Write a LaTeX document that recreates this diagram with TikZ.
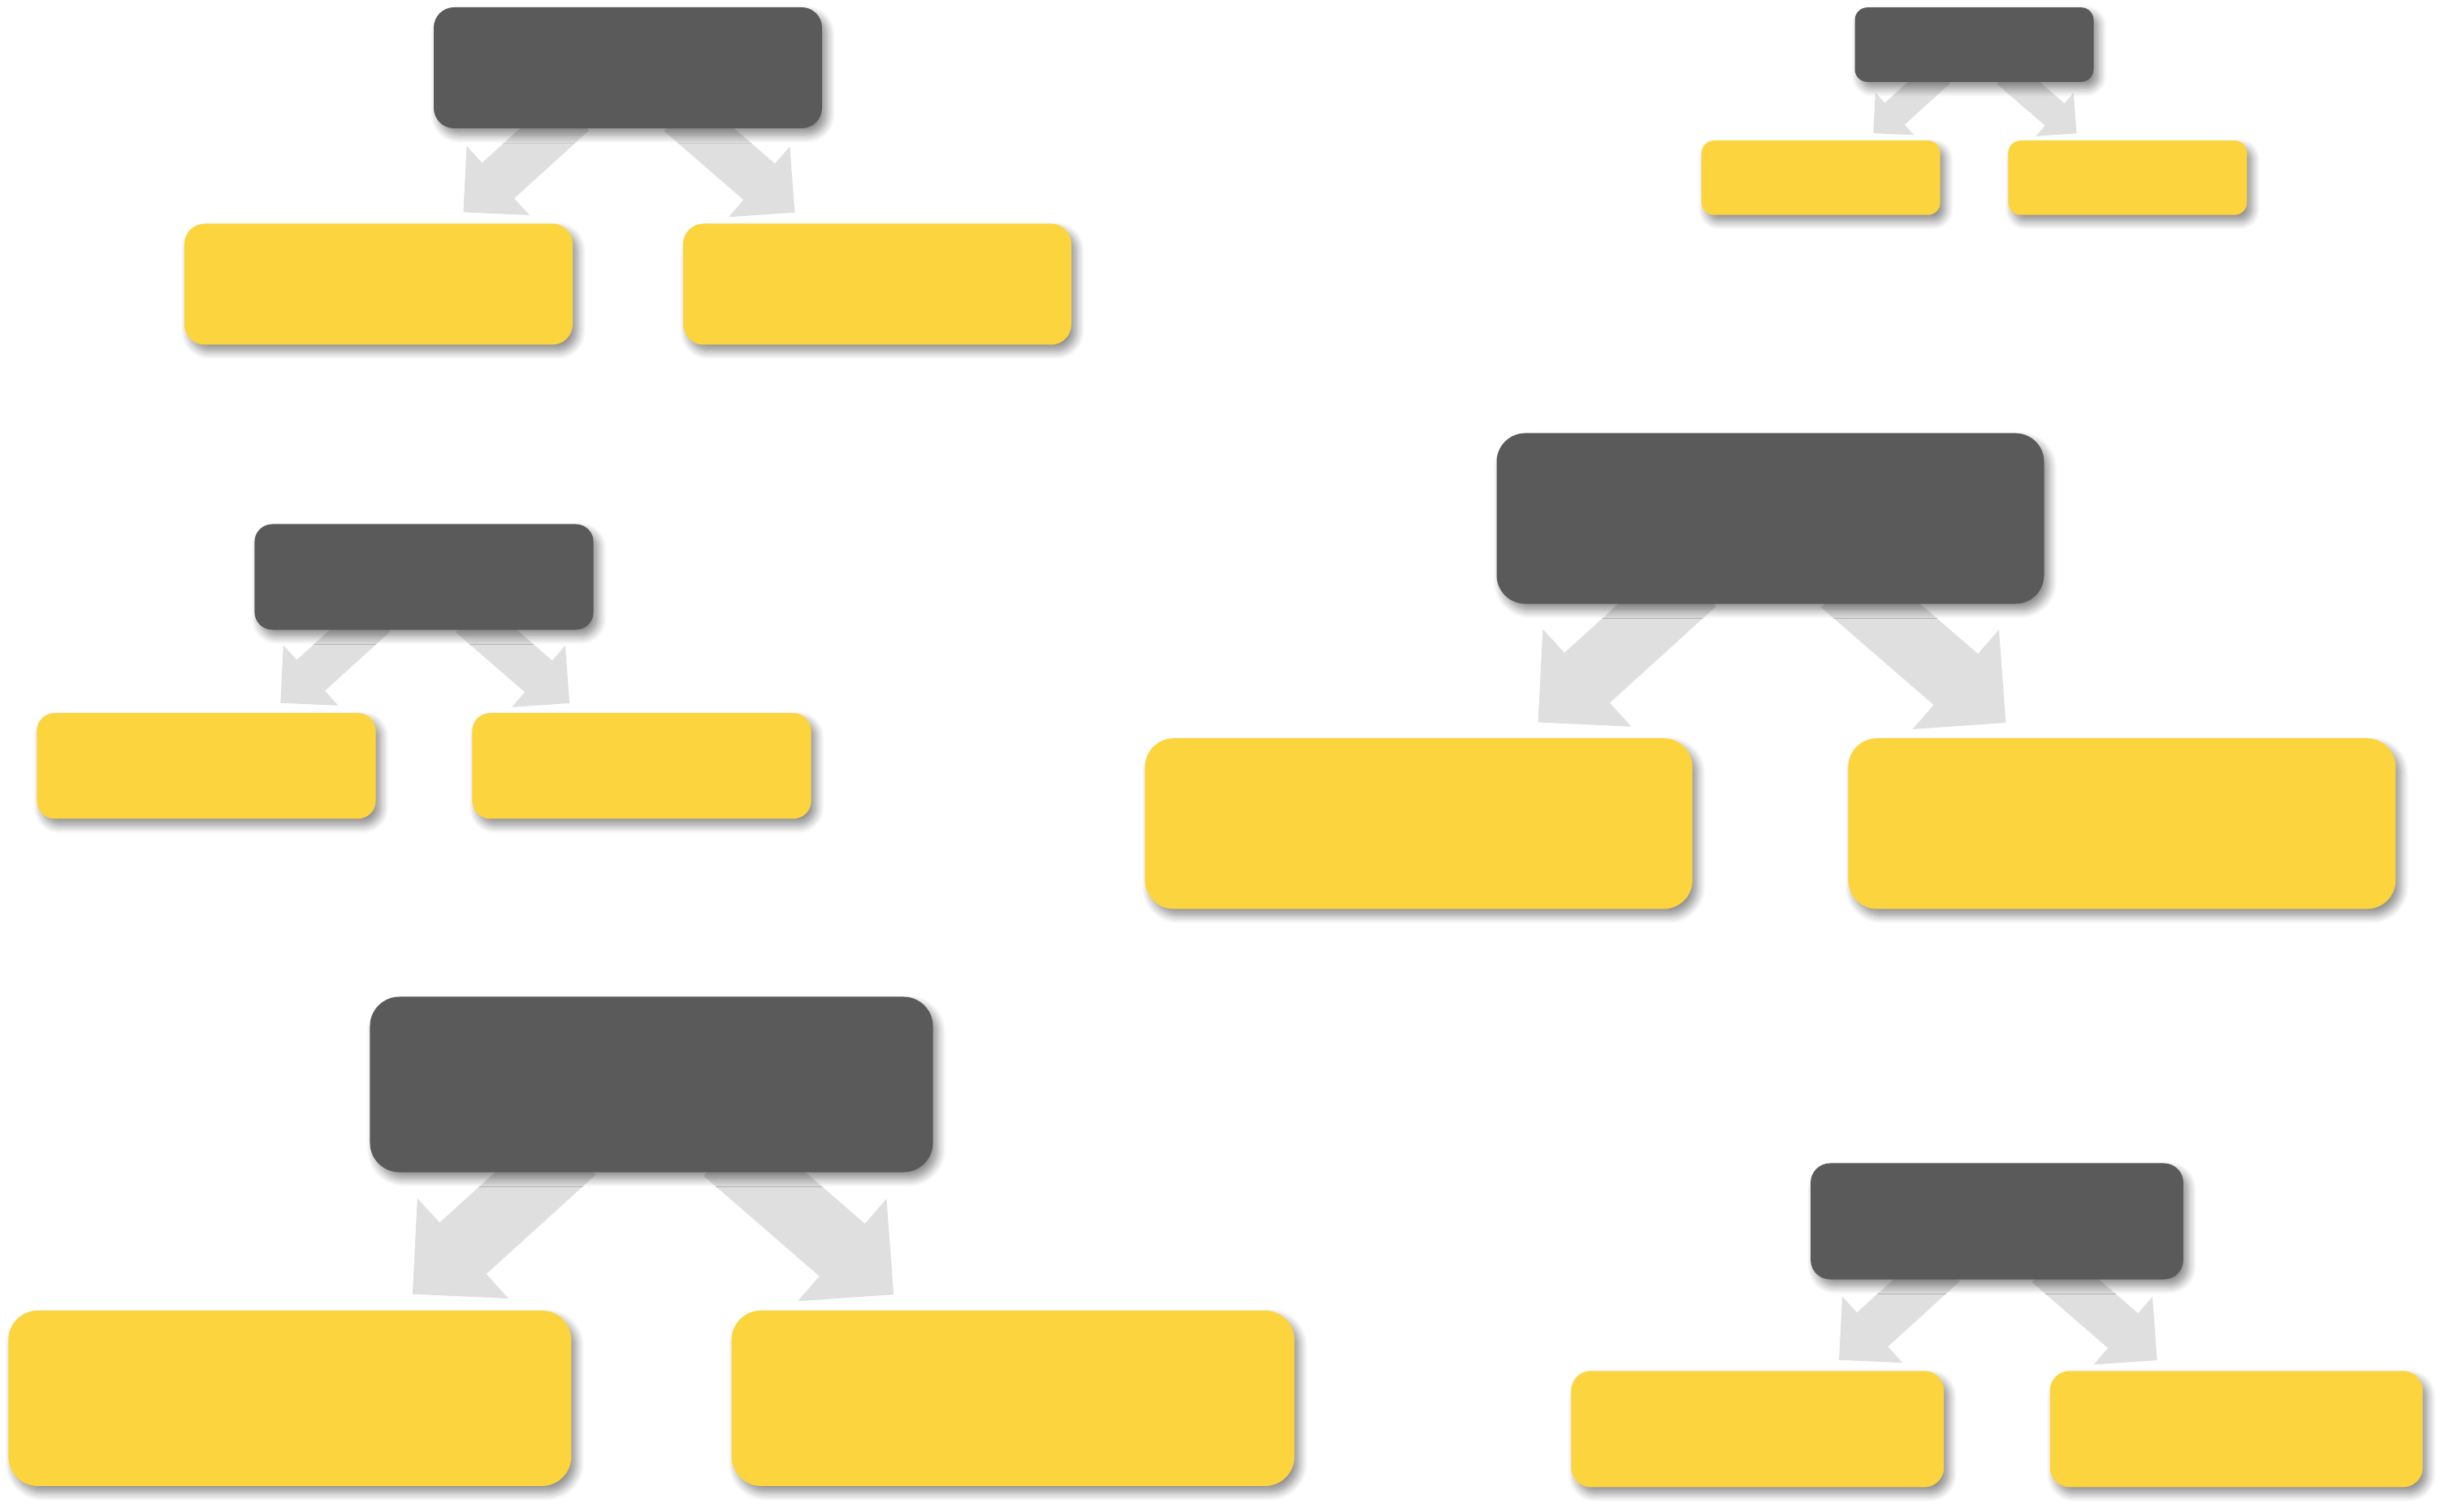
\documentclass[tikz,border=0pt]{standalone}
\usetikzlibrary{arrows.meta,shadows.blur}
\definecolor{headgray}{HTML}{5A5A5A}
\definecolor{leafyellow}{HTML}{FCD43E}
\definecolor{arrowgray}{HTML}{DFDFDF}
\pgfdeclarelayer{arrows}
\pgfsetlayers{arrows,main}
\tikzset{
  boxshadow/.style={blur shadow={shadow xshift=0.06cm,shadow yshift=-0.08cm,
      shadow blur radius=0.1cm,shadow blur steps=10,shadow opacity=45}},
  headbox/.style={fill=headgray,inner sep=0pt,boxshadow},
  leafbox/.style={fill=leafyellow,inner sep=0pt,boxshadow},
  flowarrow/.style={draw=arrowgray,
      -{Triangle[length=0pt 0.98,width=0pt 1.95,line width=0pt]}}
}
\newcommand{\orgtree}[4]{%
   \pgfmathsetlengthmacro{\boxw}{4.78cm*#4}%
   \pgfmathsetlengthmacro{\boxh}{1.49cm*#4}%
   \pgfmathsetlengthmacro{\boxr}{0.25cm*#4}%
   \begin{scope}[shift={(#2,#3)},scale=#4]
    \node[headbox,minimum width=\boxw,minimum height=\boxh,rounded corners=\boxr] (#1) at (0,0) {};
    \node[leafbox,minimum width=\boxw,minimum height=\boxh,rounded corners=\boxr] (#1l) at (-3.07,-2.665) {};
    \node[leafbox,minimum width=\boxw,minimum height=\boxh,rounded corners=\boxr] (#1r) at (3.07,-2.665) {};
   \end{scope}}

\begin{document}
\begin{tikzpicture}
   \useasboundingbox (0,0) rectangle (30.15,-18.62);
   \orgtree{ta}{7.73}{-0.835}{1.0}
   \orgtree{tb}{24.305}{-0.55}{0.615}
   \orgtree{tc}{5.22}{-7.105}{0.873}
   \orgtree{td}{21.795}{-6.385}{1.41}
   \orgtree{te}{8.02}{-13.355}{1.45}
   \orgtree{tf}{24.585}{-15.04}{0.96}
   \begin{pgfonlayer}{arrows}
    \foreach \t/\s in {ta/1.0,tb/0.615,tc/0.873,td/1.41,te/1.45,tf/0.96} {
     \pgfmathsetlengthmacro{\shaftw}{0.59cm*\s}
     \pgfmathsetlengthmacro{\backoff}{-0.3cm*\s}
     \pgfmathsetlengthmacro{\gapoff}{0.2cm*\s}
     \draw[flowarrow,line width=\shaftw,shorten <=\backoff,shorten >=\gapoff] (\t.220.6) -- (\t l.40.1);
     \draw[flowarrow,line width=\shaftw,shorten <=\backoff,shorten >=\gapoff] (\t.319.4) -- (\t r.139.9);
    }
   \end{pgfonlayer}
\end{tikzpicture}
\end{document}
